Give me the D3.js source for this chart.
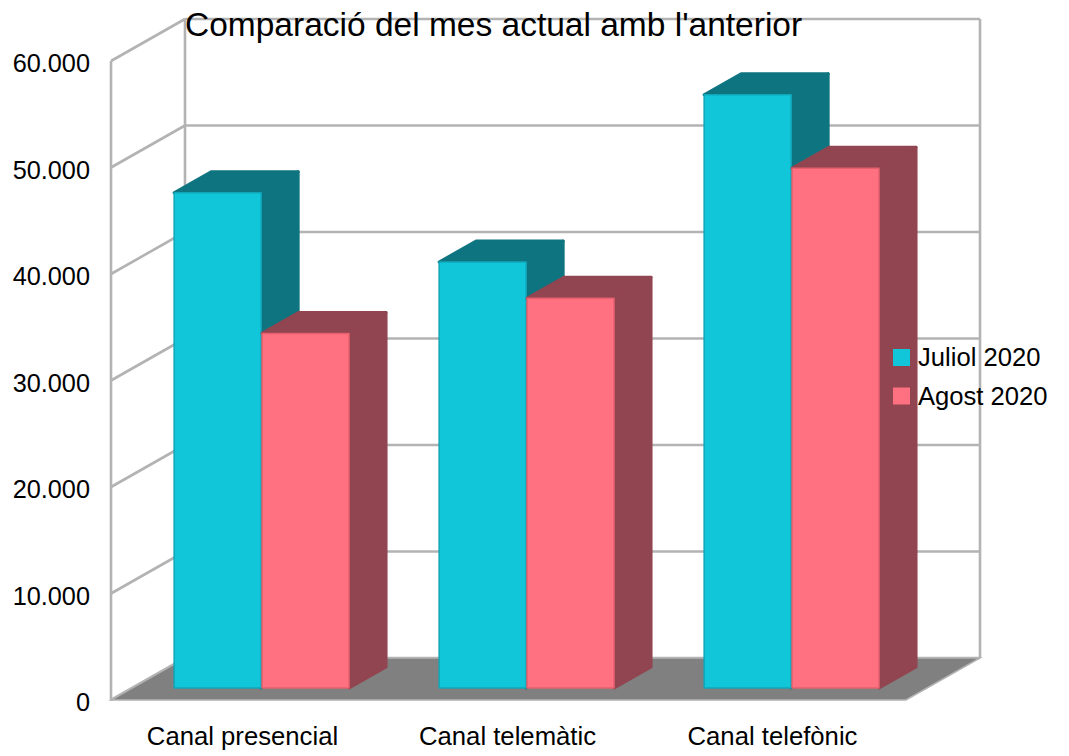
<!DOCTYPE html>
<html>
<head>
<meta charset="utf-8">
<script src="https://cdn.jsdelivr.net/npm/d3@7"></script>
<style>
  body { margin: 0; background: #fff; }
  svg { display: block; font-family: "Liberation Sans", Arial, sans-serif; }
</style>
</head>
<body>
<svg id="chart" width="1069" height="756"></svg>
<script>
const categories = ["Canal presencial", "Canal telemàtic", "Canal telefònic"];
const seriesNames = ["Juliol 2020", "Agost 2020"];
const juliol = [46500, 40000, 55700];
const agost = [33300, 36600, 48800];
const yTicks = [0, 10000, 20000, 30000, 40000, 50000, 60000];

const seriesValues = [juliol, agost];
const frontColors = ["#12c6da", "#ff7080"];
const darkColors = ["#0e7480", "#914550"];
const edgeColors = ["#0fa6b8", "#e4606e"];

const svg = d3.select("#chart");
const fmt = d3.formatLocale({ decimal: ",", thousands: ".", grouping: [3], currency: ["", "€"] }).format(",d");

// 3d box: front plane + depth offset
const left = 111, right = 906;
const depthX = 74, depthY = 42;
const z0 = 0.285, z1 = 0.785;

const y = d3.scaleLinear().domain([0, 60000]).range([700, 61]);
const x = d3.scaleBand().domain(categories).range([left - 3, right - 3])
    .paddingInner(0.34).paddingOuter(0.17);
const xs = d3.scaleBand().domain(seriesNames).range([0, x.bandwidth()]).paddingInner(0.01);

const proj = (px, v, z) => [px + z * depthX, y(v) - z * depthY];
const pts = arr => arr.map(p => proj(...p).join(",")).join(" ");

const grid = "#b3b3b3";

// walls
const g = svg.append("g").attr("stroke", grid).attr("stroke-width", 2.6).attr("fill", "none");

g.selectAll(".back").data(yTicks).join("line")
    .attr("x1", left + depthX).attr("x2", right + depthX)
    .attr("y1", d => y(d) - depthY).attr("y2", d => y(d) - depthY);

g.selectAll(".side").data(yTicks).join("line")
    .attr("x1", left).attr("x2", left + depthX)
    .attr("y1", d => y(d)).attr("y2", d => y(d) - depthY);

[[left, 0], [left + depthX, depthY], [right + depthX, depthY]].forEach(([vx, off]) => {
    g.append("line").attr("x1", vx).attr("x2", vx)
        .attr("y1", y(0) - off).attr("y2", y(60000) - off);
});

// floor
svg.append("polygon")
    .attr("points", pts([[left, 0, 0], [right, 0, 0], [right, 0, 1], [left, 0, 1]]))
    .attr("fill", "#808080").attr("stroke", grid).attr("stroke-width", 1.5);

// bars
categories.forEach((c, ci) => {
    seriesNames.forEach((s, si) => {
        const v = seriesValues[si][ci];
        const xl = x(c) + xs(s), xr = xl + xs.bandwidth();
        const bar = svg.append("g").attr("stroke-linejoin", "round");
        bar.append("polygon")
            .attr("points", pts([[xr, 0, z0], [xr, 0, z1], [xr, v, z1], [xr, v, z0]]))
            .attr("fill", darkColors[si]).attr("stroke", darkColors[si]).attr("stroke-width", 3);
        bar.append("polygon")
            .attr("points", pts([[xl, v, z0], [xr, v, z0], [xr, v, z1], [xl, v, z1]]))
            .attr("fill", darkColors[si]).attr("stroke", darkColors[si]).attr("stroke-width", 3);
        bar.append("polygon")
            .attr("points", pts([[xl, 0, z0], [xr, 0, z0], [xr, v, z0], [xl, v, z0]]))
            .attr("fill", frontColors[si]).attr("stroke", edgeColors[si]).attr("stroke-width", 1.5);
    });
});

// y labels
svg.selectAll(".ylab").data(yTicks).join("text")
    .attr("x", 90).attr("y", d => y(d) + 2).attr("dy", "0.36em")
    .attr("text-anchor", "end").attr("font-size", 25.3).attr("fill", "#000")
    .text(d => fmt(d));

// category labels
svg.selectAll(".xlab").data(categories).join("text")
    .attr("x", d => x(d) + x.bandwidth() / 2 + 2).attr("y", 745)
    .attr("text-anchor", "middle").attr("font-size", 25.7).attr("fill", "#000")
    .text(d => d);

// title
svg.append("text").attr("x", 185).attr("y", 36)
    .attr("font-size", 33.5).attr("fill", "#000")
    .text("Comparació del mes actual amb l'anterior");

// legend
const leg = svg.selectAll(".leg").data(seriesNames).join("g")
    .attr("transform", (d, i) => `translate(893, ${349 + i * 38.5})`);
leg.append("rect").attr("width", 17).attr("height", 17)
    .attr("fill", (d, i) => frontColors[i]);
leg.append("text").attr("x", 25).attr("y", 17)
    .attr("font-size", 25.6).attr("fill", "#000").text(d => d);
</script>
</body>
</html>
